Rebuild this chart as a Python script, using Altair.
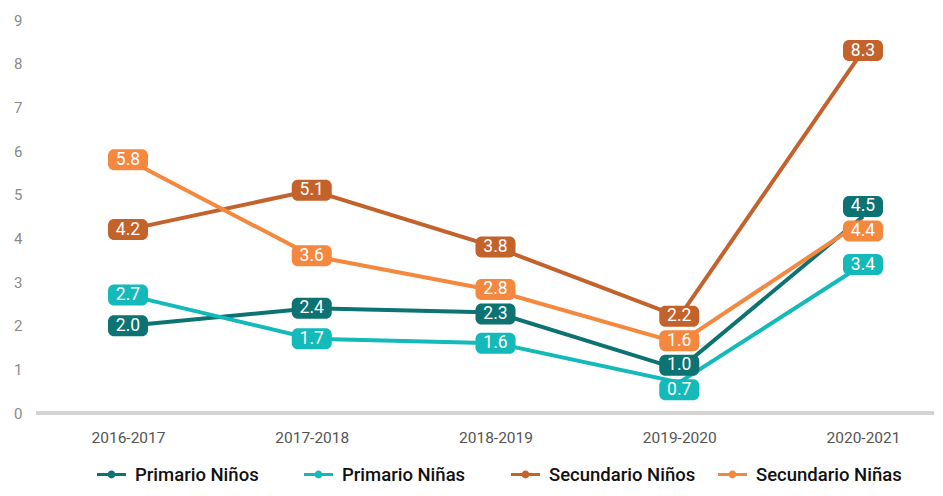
import altair as alt
import pandas as pd

years = ["2016-2017", "2017-2018", "2018-2019", "2019-2020", "2020-2021"]
series_names = ["Primario Niños", "Primario Niñas", "Secundario Niños", "Secundario Niñas"]
primario_ninos = [2.0, 2.4, 2.3, 1.0, 4.5]
primario_ninas = [2.7, 1.7, 1.6, 0.7, 3.4]
secundario_ninos = [4.2, 5.1, 3.8, 2.2, 8.3]
secundario_ninas = [5.8, 3.6, 2.8, 1.6, 4.4]
colors = ["#0d7272", "#14b9b9", "#c4622b", "#f4883f"]

all_vals = [primario_ninos, primario_ninas, secundario_ninos, secundario_ninas]
rows = []
for name, vals in zip(series_names, all_vals):
    for yr, v in zip(years, vals):
        rows.append({"year": yr, "series": name, "value": v})
df = pd.DataFrame(rows)

# spread labels vertically (value units) so that stacked boxes do not overlap
gap = 0.56
df["label_y"] = df["value"].astype(float)
for yr in years:
    idx = df[df["year"] == yr].sort_values("value").index.tolist()
    pos = [df.at[i, "value"] for i in idx]
    for _ in range(200):
        for k in range(len(pos) - 1):
            d = pos[k + 1] - pos[k]
            if d < gap:
                m = (gap - d) / 2
                pos[k] -= m
                pos[k + 1] += m
    for i, p in zip(idx, pos):
        df.at[i, "label_y"] = p
df["label"] = df["value"].map(lambda v: f"{v:.1f}")

W, H = 898, 393
xscale = alt.Scale(type="point", domain=years, range=[92, 827], padding=0)
yscale = alt.Scale(domain=[0, 9])
cscale = alt.Scale(domain=series_names, range=colors)

legend_path = ("M-1,-0.1H1V0.1H-1Z M0.27,0 A0.27,0.27 0 1,1 -0.27,0 "
               "A0.27,0.27 0 1,1 0.27,0Z")

base = alt.Chart(df)

rule = base.mark_rule(color="#d3d3d3", strokeWidth=3).encode(
    y=alt.datum(0, scale=yscale), x=alt.value(0), x2=alt.value(W)
)

lines = base.mark_line(strokeWidth=4).encode(
    x=alt.X("year:N", scale=xscale, sort=years,
            axis=alt.Axis(title=None, domain=False, ticks=False, labelAngle=0,
                          labelPadding=17, labelFontSize=15.5, labelColor="#555555",
                          labelFont="Roboto", labelFontWeight="normal")),
    y=alt.Y("value:Q", scale=yscale,
            axis=alt.Axis(title=None, domain=False, ticks=False, grid=False,
                          values=list(range(10)), labelPadding=14, labelFontSize=15,
                          labelColor="#8a8a8a", labelFont="Roboto")),
    color=alt.Color("series:N", scale=cscale, sort=series_names,
                    legend=alt.Legend(title=None, orient="none", legendX=61, legendY=440,
                                      direction="horizontal", symbolType=legend_path,
                                      symbolSize=841, symbolStrokeWidth=0,
                                      labelFontSize=18.5, labelFont="Roboto",
                                      labelFontWeight=500, labelColor="#111111",
                                      columns=4, gridAlign="all",
                                      columnPadding=22, labelOffset=9)),
    detail="series:N",
)

boxes = base.mark_rect(width=40, height=21, cornerRadius=6).encode(
    x=alt.X("year:N", scale=xscale, sort=years),
    y=alt.Y("label_y:Q", scale=yscale),
    fill=alt.Fill("series:N", scale=cscale, sort=series_names, legend=None),
)

texts = base.mark_text(color="white", fontSize=17.5, font="Roboto").encode(
    x=alt.X("year:N", scale=xscale, sort=years),
    y=alt.Y("label_y:Q", scale=yscale),
    text="label:N",
)

chart = alt.layer(rule, lines, boxes, texts).properties(
    width=W, height=H,
    autosize=alt.AutoSizeParams(type="none"),
    padding={"left": 28, "top": 12, "right": 0, "bottom": 75},
).configure_view(stroke=None)

chart.save("out.html", embed_options={"renderer": "svg", "actions": False})
